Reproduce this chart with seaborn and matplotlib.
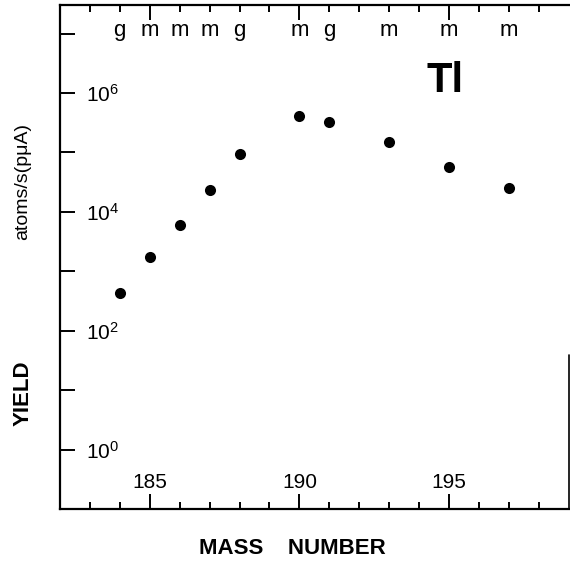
import numpy as np
import pandas as pd
import matplotlib
matplotlib.use("Agg")
import matplotlib.pyplot as plt
import seaborn as sns

# isotope yields
mass = [184, 185, 186, 187, 188, 190, 191, 193, 195, 197]
state = ["g", "m", "m", "m", "g", "m", "g", "m", "m", "m"]
yld = [4.3e2, 1.75e3, 6.0e3, 2.3e4, 9.6e4, 4.1e5, 3.3e5, 1.5e5, 5.6e4, 2.5e4]

xmajor = [185, 190, 195]
ymajor = [1e0, 1e2, 1e4, 1e6]
yminor = [1e1, 1e3, 1e5, 1e7]
ylabels = ["$10^{0}$", "$10^{2}$", "$10^{4}$", "$10^{6}$"]

df = pd.DataFrame({"mass": mass, "state": state, "yield": yld})

sns.set_style("ticks", {"axes.edgecolor": "black", "text.color": "black",
                        "xtick.color": "black", "ytick.color": "black"})
plt.rcParams["font.family"] = ["Liberation Sans", "DejaVu Sans"]
plt.rcParams["mathtext.default"] = "regular"

fig = plt.figure(figsize=(5.7, 5.68), dpi=100)
ax = fig.add_axes([0.105, 0.104, 0.893, 0.887])

sns.scatterplot(data=df, x="mass", y="yield", color="black", s=64,
                edgecolor="black", linewidth=0, ax=ax, zorder=3)
ax.set_yscale("log")
ax.set_xlim(182, 199)
ax.set_ylim(1e-1, 10 ** 7.48)

ax.set_xticks(xmajor)
ax.set_xticks(np.arange(183, 199), minor=True)
ax.set_yticks(ymajor)
ax.set_yticklabels(ylabels)
ax.set_yticks(yminor, minor=True)
ax.set_yticklabels([], minor=True)

ax.tick_params(axis="x", which="both", direction="in", top=True,
               width=1.4, labelsize=15, pad=-26, colors="black")
ax.tick_params(axis="x", which="major", length=11)
ax.tick_params(axis="x", which="minor", length=5)
ax.tick_params(axis="y", which="both", direction="in", length=11,
               width=1.4, labelsize=15, pad=-19, colors="black")
for lbl in ax.get_yticklabels():
    lbl.set_horizontalalignment("left")

for s in ["left", "top", "bottom"]:
    ax.spines[s].set_linewidth(1.6)
    ax.spines[s].set_color("black")
ax.spines["right"].set_visible(False)
ax.plot([1, 1], [0, 0.305], transform=ax.transAxes, color="black",
        lw=1.2, clip_on=False)

ax.set_xlabel("")
ax.set_ylabel("")

# g / m state markers along the top
for m, st in zip(mass, state):
    ax.text(m, 0.95, st, transform=ax.get_xaxis_transform(),
            ha="center", va="center", fontsize=16, color="black")

ax.text(194.85, 1.6e6, "Tl", ha="center", va="center", fontsize=30,
        fontweight="bold", color="black")

fig.text(0.513, 0.035, "MASS    NUMBER", ha="center", va="center",
         fontsize=16, fontweight="bold", color="black")
fig.text(0.041, 0.308, "YIELD", rotation=90, ha="center", va="center",
         fontsize=16, fontweight="bold", color="black")
fig.text(0.04, 0.681, "atoms/s(p\u03bcA)", rotation=90, ha="center",
         va="center", fontsize=14, color="black")

fig.savefig("out.png", dpi=100)
